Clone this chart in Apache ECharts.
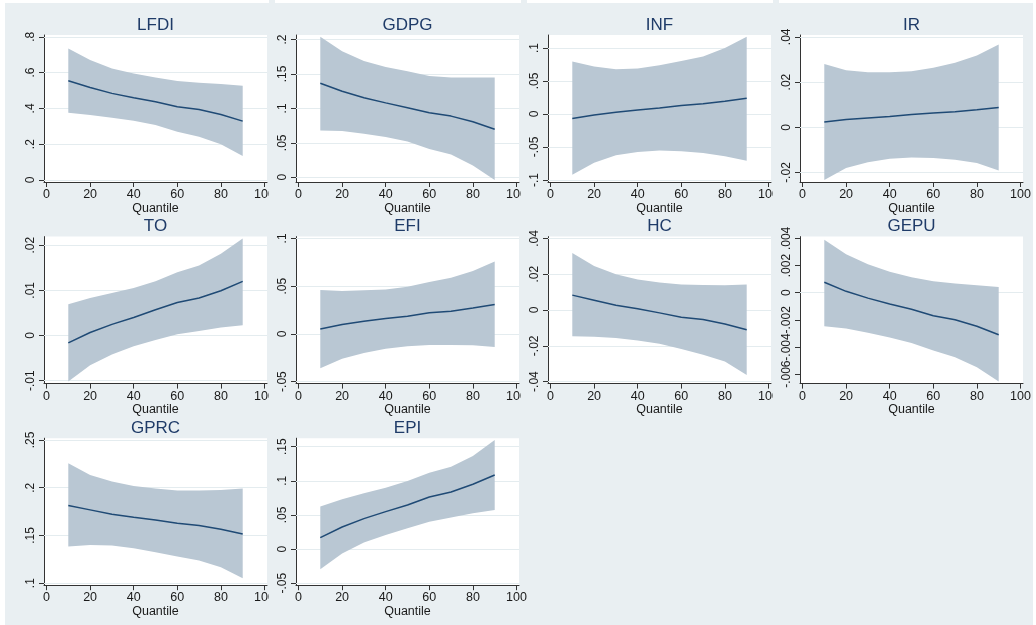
<!DOCTYPE html>
<html>
<head>
<meta charset="utf-8">
<script src="https://cdn.jsdelivr.net/npm/echarts@6/dist/echarts.min.js"></script>
<style>
html,body{margin:0;padding:0;background:#fff;}
#chart{width:1036px;height:625px;}
</style>
</head>
<body>
<div id="chart"></div>
<script>
// ---------------- DATA ----------------
const quantiles = [10, 20, 30, 40, 50, 60, 70, 80, 90];
const xTicks = [0, 20, 40, 60, 80, 100];
const xName = 'Quantile';
const panelNames = ['LFDI', 'GDPG', 'INF', 'IR', 'TO', 'EFI', 'HC', 'GEPU', 'GPRC', 'EPI'];

const lfdiCoef  = [0.554, 0.517, 0.484, 0.460, 0.437, 0.409, 0.394, 0.366, 0.329];
const lfdiUpper = [0.735, 0.670, 0.623, 0.595, 0.573, 0.553, 0.543, 0.536, 0.527];
const lfdiLower = [0.376, 0.363, 0.348, 0.331, 0.307, 0.270, 0.242, 0.200, 0.134];
const lfdiTicks = [0, 0.2, 0.4, 0.6, 0.8];

const gdpgCoef  = [0.1366, 0.125, 0.1156, 0.108, 0.101, 0.0937, 0.0888, 0.0805, 0.0698];
const gdpgUpper = [0.204, 0.183, 0.169, 0.160, 0.154, 0.147, 0.145, 0.145, 0.145];
const gdpgLower = [0.068, 0.067, 0.063, 0.0585, 0.052, 0.041, 0.033, 0.017, -0.004];
const gdpgTicks = [0, 0.05, 0.1, 0.15, 0.2];

const infCoef  = [-0.0067, -0.0015, 0.0026, 0.0062, 0.0092, 0.0128, 0.0154, 0.0195, 0.024];
const infUpper = [0.0795, 0.072, 0.068, 0.069, 0.074, 0.0805, 0.087, 0.100, 0.117];
const infLower = [-0.092, -0.074, -0.0626, -0.0574, -0.0554, -0.0564, -0.059, -0.064, -0.0708];
const infTicks = [-0.1, -0.05, 0, 0.05, 0.1];

const irCoef  = [0.0023, 0.0034, 0.0041, 0.0048, 0.0056, 0.0063, 0.0069, 0.0078, 0.0088];
const irUpper = [0.028, 0.0252, 0.0243, 0.0243, 0.0248, 0.0263, 0.0285, 0.0317, 0.0366];
const irLower = [-0.0233, -0.018, -0.0154, -0.0139, -0.0133, -0.0136, -0.0144, -0.0158, -0.0191];
const irTicks = [-0.02, 0, 0.02, 0.04];

const toCoef  = [-0.00164, 0.00067, 0.00246, 0.004, 0.0057, 0.0073, 0.0083, 0.0099, 0.012];
const toUpper = [0.0069, 0.0083, 0.0094, 0.0105, 0.012, 0.014, 0.0155, 0.0181, 0.0215];
const toLower = [-0.0102, -0.0066, -0.0042, -0.0024, -0.001, 0.0003, 0.001, 0.0018, 0.0023];
const toTicks = [-0.01, 0, 0.01, 0.02];

const efiCoef  = [0.0052, 0.0097, 0.0132, 0.016, 0.0185, 0.022, 0.0238, 0.027, 0.0308];
const efiUpper = [0.0459, 0.0449, 0.0456, 0.0466, 0.0494, 0.0543, 0.0589, 0.0659, 0.0757];
const efiLower = [-0.0359, -0.0261, -0.0201, -0.0156, -0.0131, -0.0117, -0.0117, -0.012, -0.0138];
const efiTicks = [-0.05, 0, 0.05, 0.1];

const hcCoef  = [0.0083, 0.0055, 0.0027, 0.0007, -0.0016, -0.004, -0.0053, -0.0078, -0.011];
const hcUpper = [0.0318, 0.0246, 0.020, 0.0171, 0.0153, 0.0143, 0.014, 0.0138, 0.0143];
const hcLower = [-0.0147, -0.0149, -0.0156, -0.017, -0.0188, -0.0218, -0.025, -0.0288, -0.0363];
const hcTicks = [-0.04, -0.02, 0, 0.02, 0.04];

const gepuCoef  = [0.00077, 0.0001, -0.0004, -0.00083, -0.00122, -0.0017, -0.002, -0.00247, -0.0031];
const gepuUpper = [0.0039, 0.00283, 0.00209, 0.00154, 0.00114, 0.00084, 0.00067, 0.00054, 0.00042];
const gepuLower = [-0.00247, -0.00264, -0.00296, -0.00331, -0.00371, -0.00426, -0.00475, -0.0055, -0.00655];
const gepuTicks = [-0.006, -0.004, -0.002, 0, 0.002, 0.004];

const gprcCoef  = [0.1813, 0.1768, 0.1722, 0.1691, 0.1663, 0.1628, 0.1604, 0.1565, 0.1516];
const gprcUpper = [0.2256, 0.2134, 0.2064, 0.2019, 0.1991, 0.197, 0.197, 0.1977, 0.1991];
const gprcLower = [0.1384, 0.1401, 0.1394, 0.1366, 0.1325, 0.1279, 0.1237, 0.1168, 0.1053];
const gprcTicks = [0.1, 0.15, 0.2, 0.25];

const epiCoef  = [0.0168, 0.0324, 0.0446, 0.0549, 0.0646, 0.0763, 0.0837, 0.0949, 0.1085];
const epiUpper = [0.0622, 0.0729, 0.0817, 0.090, 0.0998, 0.112, 0.1207, 0.1363, 0.1598];
const epiLower = [-0.0295, -0.0066, 0.0095, 0.0207, 0.0305, 0.0402, 0.0461, 0.0524, 0.0573];
const epiTicks = [-0.05, 0, 0.05, 0.1, 0.15];

// ---------------- CHART ----------------
const panels = [
  [lfdiCoef, lfdiUpper, lfdiLower, lfdiTicks],
  [gdpgCoef, gdpgUpper, gdpgLower, gdpgTicks],
  [infCoef, infUpper, infLower, infTicks],
  [irCoef, irUpper, irLower, irTicks],
  [toCoef, toUpper, toLower, toTicks],
  [efiCoef, efiUpper, efiLower, efiTicks],
  [hcCoef, hcUpper, hcLower, hcTicks],
  [gepuCoef, gepuUpper, gepuLower, gepuTicks],
  [gprcCoef, gprcUpper, gprcLower, gprcTicks],
  [epiCoef, epiUpper, epiLower, epiTicks]
];

const BG = '#e9eff2';
const BAND = '#b9c7d3';
const LINE = '#1f4a75';
const AXIS = '#333333';
const TXT = '#1a1a1a';
const TITLE = '#1f3b68';
const GRIDLINE = '#e4ecef';
const FONT = '"Liberation Sans", Arial, sans-serif';

const colLeft0 = 44, colStep = 252, rowTop0 = 35, rowStep = 201.6;
const gridW = 223, gridH = 147;
const xPadL = 2.5, xPadR = 2.5, yPadT = 1.8, yPadB = 2;

function fmt(v) {
  if (v === 0) return '0';
  let s = String(+v.toPrecision(6));
  return s.replace(/^(-?)0\./, '$1.');
}

const grids = [], xAxes = [], yAxes = [], series = [], titles = [];
panels.forEach((p, i) => {
  const [coef, upper, lower, ticks] = p;
  const col = i % 4, row = Math.floor(i / 4);
  const left = colLeft0 + col * colStep;
  const top = rowTop0 + row * rowStep;
  grids.push({left: left, top: top, width: gridW, height: gridH,
    show: true, backgroundColor: '#ffffff', borderWidth: 0, containLabel: false});

  const xInner = gridW - xPadL - xPadR;
  const xSpan = xTicks[xTicks.length - 1] - xTicks[0];
  const xmin = xTicks[0] - xPadL / xInner * xSpan;
  const xmax = xTicks[xTicks.length - 1] + xPadR / xInner * xSpan;

  const lo = Math.min(ticks[0], Math.min.apply(null, lower));
  const hi = Math.max(ticks[ticks.length - 1], Math.max.apply(null, upper));
  const yInner = gridH - yPadT - yPadB;
  const ymin = lo - yPadB / yInner * (hi - lo);
  const ymax = hi + yPadT / yInner * (hi - lo);

  xAxes.push({
    gridIndex: i, type: 'value', min: xmin, max: xmax,
    name: xName, nameLocation: 'middle', nameGap: 15.5,
    nameTextStyle: {fontFamily: FONT, fontSize: 12.5, color: TXT},
    axisLine: {show: true, onZero: false, lineStyle: {color: AXIS, width: 1}},
    axisTick: {show: true, length: 5, customValues: xTicks, lineStyle: {color: AXIS}},
    axisLabel: {customValues: xTicks, margin: 6, fontFamily: FONT, fontSize: 12.5, color: TXT, formatter: fmt,
      showMinLabel: true, showMaxLabel: true},
    splitLine: {show: false}
  });

  // y labels: even / odd positions on two coincident axes so that touching labels are never dropped
  const evenTicks = ticks.filter((v, k) => k % 2 === 0);
  const oddTicks = ticks.filter((v, k) => k % 2 === 1);
  const mkY = (labelVals, withLine) => ({
    gridIndex: i, type: 'value', min: ymin, max: ymax, position: 'left', offset: 0,
    axisLine: {show: withLine, onZero: false, lineStyle: {color: AXIS, width: 1}},
    axisTick: {show: withLine, length: 5, customValues: ticks, lineStyle: {color: AXIS}},
    axisLabel: {customValues: labelVals, rotate: 90, margin: 7, fontFamily: FONT, fontSize: 12, color: TXT,
      formatter: fmt, showMinLabel: true, showMaxLabel: true},
    splitLine: {show: false}
  });
  const yMainIndex = yAxes.length;
  yAxes.push(mkY(evenTicks, true));
  yAxes.push(mkY(oddTicks, false));

  // confidence band drawn as one polygon through the axis scales
  series.push({
    type: 'custom', xAxisIndex: i, yAxisIndex: yMainIndex, z: 2, silent: true,
    data: quantiles.map((q, k) => [q, lower[k], upper[k]]),
    encode: {x: 0, y: [1, 2]},
    renderItem: function (params, api) {
      if (params.dataIndex !== 0) return null;
      const pts = [];
      for (let k = 0; k < quantiles.length; k++) pts.push(api.coord([quantiles[k], upper[k]]));
      for (let k = quantiles.length - 1; k >= 0; k--) pts.push(api.coord([quantiles[k], lower[k]]));
      return {type: 'polygon', shape: {points: pts}, style: {fill: BAND, stroke: null}};
    }
  });
  series.push({
    type: 'line', xAxisIndex: i, yAxisIndex: yMainIndex,
    data: quantiles.map((q, k) => [q, coef[k]]),
    symbol: 'none', lineStyle: {color: LINE, width: 1.5}, silent: true, z: 3,
    markLine: {
      silent: true, symbol: ['none', 'none'], z: 1, animation: false,
      label: {show: false},
      lineStyle: {color: GRIDLINE, width: 1, type: 'solid'},
      emphasis: {disabled: true},
      data: ticks.map(v => ({yAxis: v}))
    }
  });

  titles.push({
    text: panelNames[i], left: left + gridW / 2, top: top - 20, textAlign: 'center', padding: 0,
    textStyle: {fontFamily: FONT, fontSize: 17, fontWeight: 'normal', color: TITLE, lineHeight: 20}
  });
});

// strips that clip the right-most x label where the next panel begins
const graphics = [{type: 'rect', z: -10, silent: true,
  shape: {x: 5, y: 3, width: 1028, height: 622}, style: {fill: BG}}];
for (let c = 1; c < 4; c++) {
  const lastRowHasCol = (panels.length - 8) > c;
  const h = lastRowHasCol ? 625 : rowTop0 + 2 * rowStep - 12;
  graphics.push({type: 'rect', z: 100, silent: true,
    shape: {x: colLeft0 + c * colStep - 27, y: 0, width: 6, height: h}, style: {fill: BG}});
}

const chart = echarts.init(document.getElementById('chart'), null, {renderer: 'canvas'});
chart.setOption({
  backgroundColor: '#ffffff',
  animation: false,
  title: titles,
  grid: grids,
  xAxis: xAxes,
  yAxis: yAxes,
  series: series,
  graphic: graphics
});
</script>
</body>
</html>
